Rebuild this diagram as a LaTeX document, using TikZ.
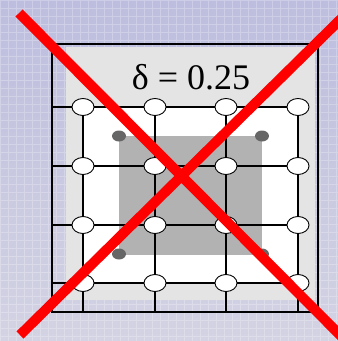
\documentclass[tikz,border=0pt]{standalone}
\usepackage{fontspec}
\setmainfont{Liberation Serif}
\usetikzlibrary{shapes.geometric}
\definecolor{lavtop}{RGB}{189,189,223}
\definecolor{lavbot}{RGB}{211,211,227}
\definecolor{panel}{RGB}{228,228,228}
\definecolor{inner}{RGB}{178,178,178}
\definecolor{cornergray}{RGB}{102,102,102}
\begin{document}
\begin{tikzpicture}[x=1pt,y=-1pt,
 site/.style={ellipse,draw,fill=white,line width=0.9pt,minimum width=22pt,minimum height=17pt,inner sep=0pt},
 cdot/.style={ellipse,fill=cornergray,minimum width=14pt,minimum height=11pt,inner sep=0pt},
 link/.style={line width=1.3pt},
 cross/.style={red,line width=10pt}]
\useasboundingbox (0,0) rectangle (338,341);
% backdrop
\shade[top color=lavtop,bottom color=lavbot] (0,0) rectangle (338,341);
\draw[white,opacity=0.25,line width=0.8pt,step=8pt] (0,0) grid (338,341);
\fill[panel] (66,47) rectangle (315,300);
\fill[white] (83,107) rectangle (298,283);
\fill[inner] (119,136) rectangle (262,255);
\node[cdot] (d1) at (119,136) {};
\node[cdot] (d2) at (262,136) {};
\node[cdot] (d3) at (119,254) {};
\node[cdot] (d4) at (262,254) {};
\draw[line width=2.3pt] (52,44) rectangle (318,312);
% lattice
\coordinate (l1) at (52,107); \coordinate (l2) at (52,166);
\coordinate (l3) at (52,225); \coordinate (l4) at (52,283);
\coordinate (b1) at (83,312); \coordinate (b2) at (155,312);
\coordinate (b3) at (226,312); \coordinate (b4) at (298,312);
\coordinate (p11) at (83,107); \coordinate (p12) at (155,107); \coordinate (p13) at (226,107); \coordinate (p14) at (298,107);
\coordinate (p21) at (83,166); \coordinate (p22) at (155,166); \coordinate (p23) at (226,166); \coordinate (p24) at (298,166);
\coordinate (p31) at (83,225); \coordinate (p32) at (155,225); \coordinate (p33) at (226,225); \coordinate (p34) at (298,225);
\coordinate (p41) at (83,283); \coordinate (p42) at (155,283); \coordinate (p43) at (226,283); \coordinate (p44) at (298,283);
\draw[link] (l1) -- (p14); \draw[link] (l2) -- (p24);
\draw[link] (l3) -- (p34); \draw[link] (l4) -- (p44);
\draw[link] (p11) -- (b1); \draw[link] (p12) -- (b2);
\draw[link] (p13) -- (b3); \draw[link] (p14) -- (b4);
\node[site] (s11) at (p11) {}; \node[site] (s12) at (p12) {}; \node[site] (s13) at (p13) {}; \node[site] (s14) at (p14) {};
\node[site] (s21) at (p21) {}; \node[site] (s22) at (p22) {}; \node[site] (s23) at (p23) {}; \node[site] (s24) at (p24) {};
\node[site] (s31) at (p31) {}; \node[site] (s32) at (p32) {}; \node[site] (s33) at (p33) {}; \node[site] (s34) at (p34) {};
\node[site] (s41) at (p41) {}; \node[site] (s42) at (p42) {}; \node[site] (s43) at (p43) {}; \node[site] (s44) at (p44) {};
\node (delta) at (191,77) {\fontsize{36}{42}\selectfont δ = 0.25};
% crossed out
\draw[cross] (19,13) -- (352,347);
\draw[cross] (20,335) -- (352,8);
\end{tikzpicture}
\end{document}
